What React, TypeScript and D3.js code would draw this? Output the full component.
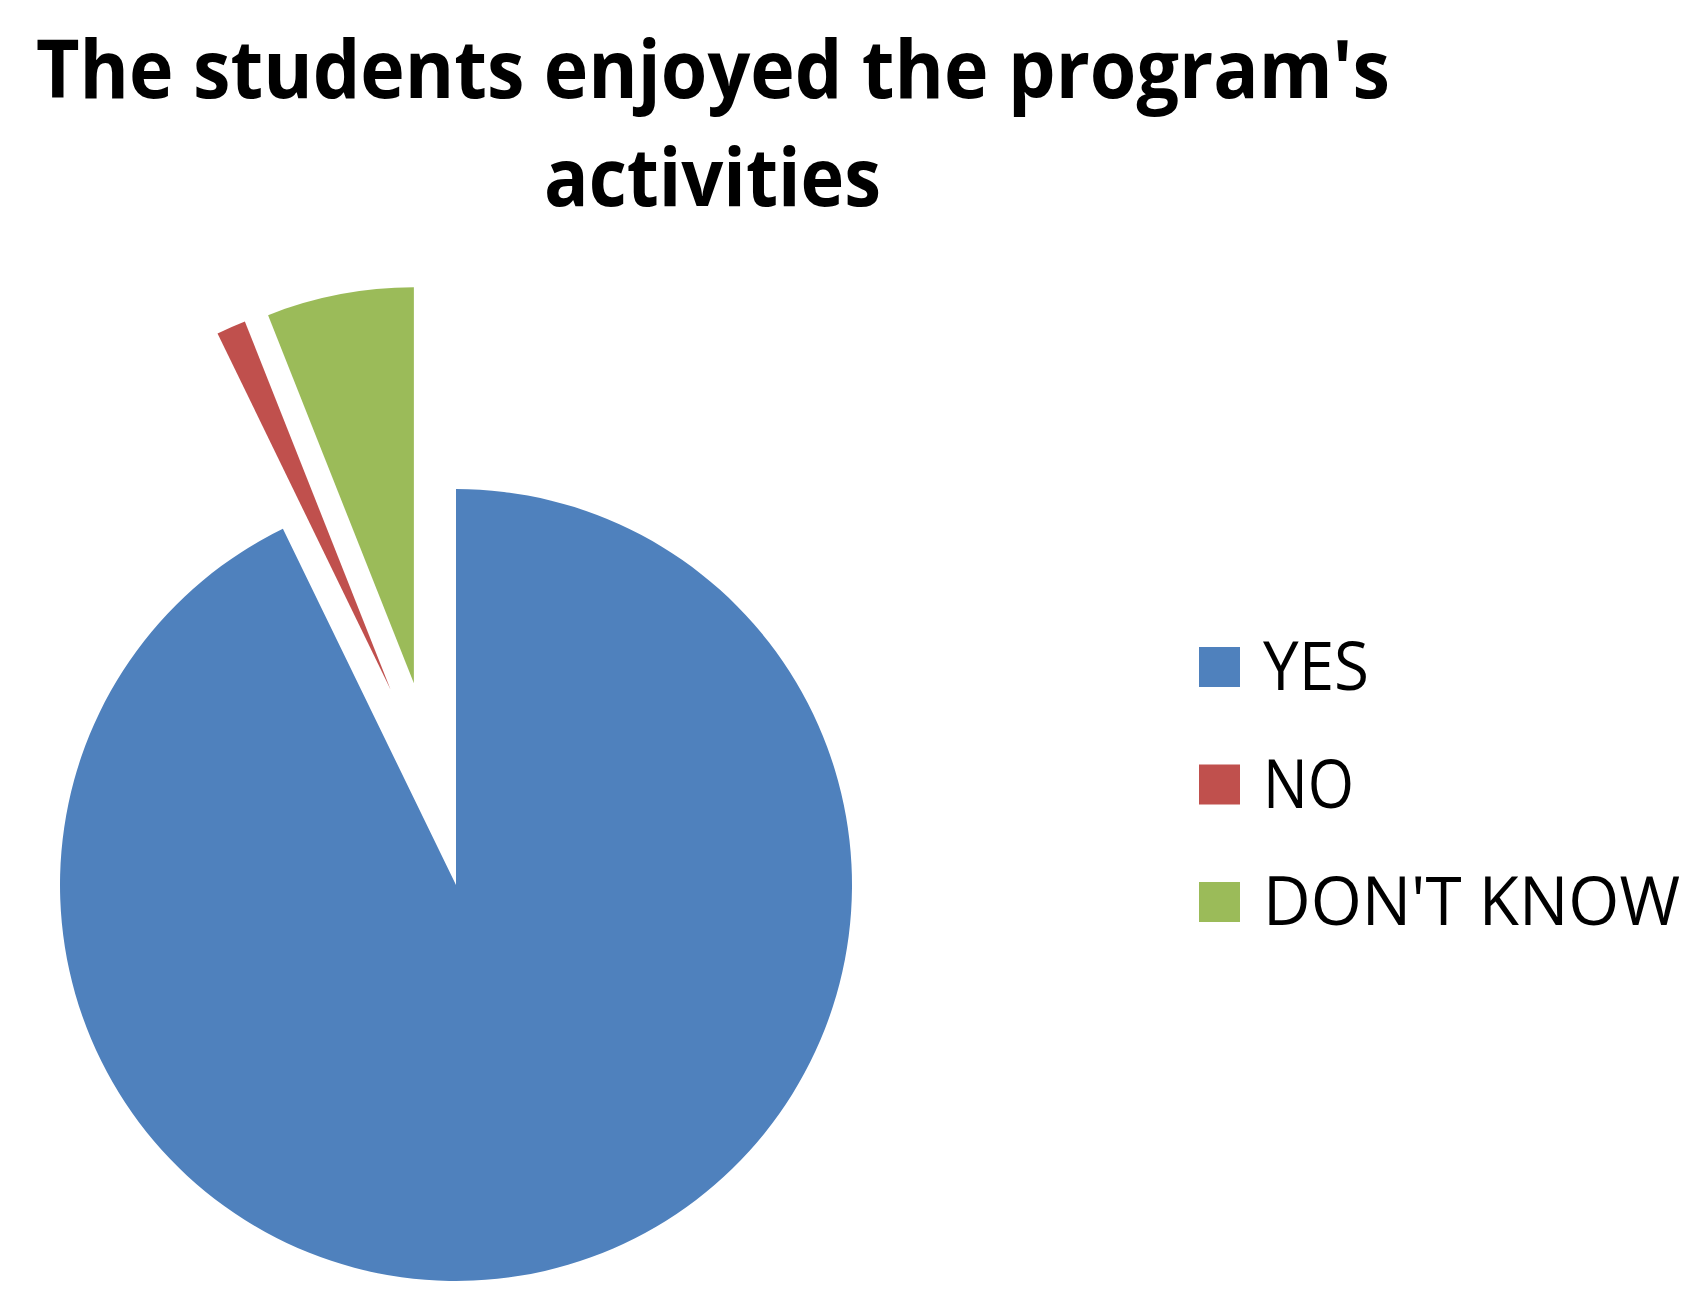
import React from 'react';
import * as d3 from 'd3';

// survey answers (share of students, %)
const categories = ['YES', 'NO', "DON'T KNOW"];
const values = [92.8, 1.2, 6.0];
const colors = ['#4F81BD', '#C0504D', '#9BBB59'];

const titleLines = ["The students enjoyed the program's", 'activities'];

// exploded slices: distance (px) and direction (deg, clockwise from 12 o'clock)
const explode: Record<string, { dist: number; dir: number }> = {
  NO: { dist: 206, dir: -18.5 },
  "DON'T KNOW": { dist: 206, dir: -11.8 },
};

const App = () => {
  const width = 1706;
  const height = 1311;
  const cx = 456;
  const cy = 885;
  const radius = 396;

  const data = categories.map((name, i) => ({ name, value: values[i], color: colors[i] }));

  const pie = d3
    .pie<{ name: string; value: number; color: string }>()
    .sort(null)
    .value((d) => d.value);
  const arc = d3
    .arc<d3.PieArcDatum<{ name: string; value: number; color: string }>>()
    .innerRadius(0)
    .outerRadius(radius);

  const arcs = pie(data);

  // legend layout
  const legendX = 1199;
  const legendTop = 647;
  const legendStep = 117.5;
  const legendW = [106, 91, 417];

  return (
    <svg
      width={width}
      height={height}
      style={{ position: 'absolute', left: 0, top: 0, background: '#fff' }}
    >
      {/* title */}
      <text
        x={36}
        y={98}
        fontFamily="'Open Sans', sans-serif"
        fontWeight={700}
        fontSize={81}
        fill="#000"
        textLength={1354}
        lengthAdjust="spacingAndGlyphs"
      >
        {titleLines[0]}
      </text>
      <text
        x={544}
        y={206}
        fontFamily="'Open Sans', sans-serif"
        fontWeight={700}
        fontSize={81}
        fill="#000"
        textLength={337}
        lengthAdjust="spacingAndGlyphs"
      >
        {titleLines[1]}
      </text>

      {/* pie */}
      <g transform={`translate(${cx},${cy})`}>
        {arcs.map((a) => {
          const ex = explode[a.data.name];
          let dx = 0;
          let dy = 0;
          if (ex) {
            const r = (ex.dir * Math.PI) / 180;
            dx = ex.dist * Math.sin(r);
            dy = -ex.dist * Math.cos(r);
          }
          return (
            <path
              key={a.data.name}
              d={arc(a) || ''}
              fill={a.data.color}
              transform={`translate(${dx},${dy})`}
            />
          );
        })}
      </g>

      {/* legend */}
      {data.map((d, i) => (
        <g key={d.name} transform={`translate(${legendX},${legendTop + i * legendStep})`}>
          <rect x={0} y={0} width={41} height={40} fill={d.color} />
          <text
            x={64}
            y={43}
            fontFamily="'Open Sans', sans-serif"
            fontSize={67}
            fill="#000"
            textLength={legendW[i]}
            lengthAdjust="spacingAndGlyphs"
          >
            {d.name}
          </text>
        </g>
      ))}
    </svg>
  );
};

export default App;
